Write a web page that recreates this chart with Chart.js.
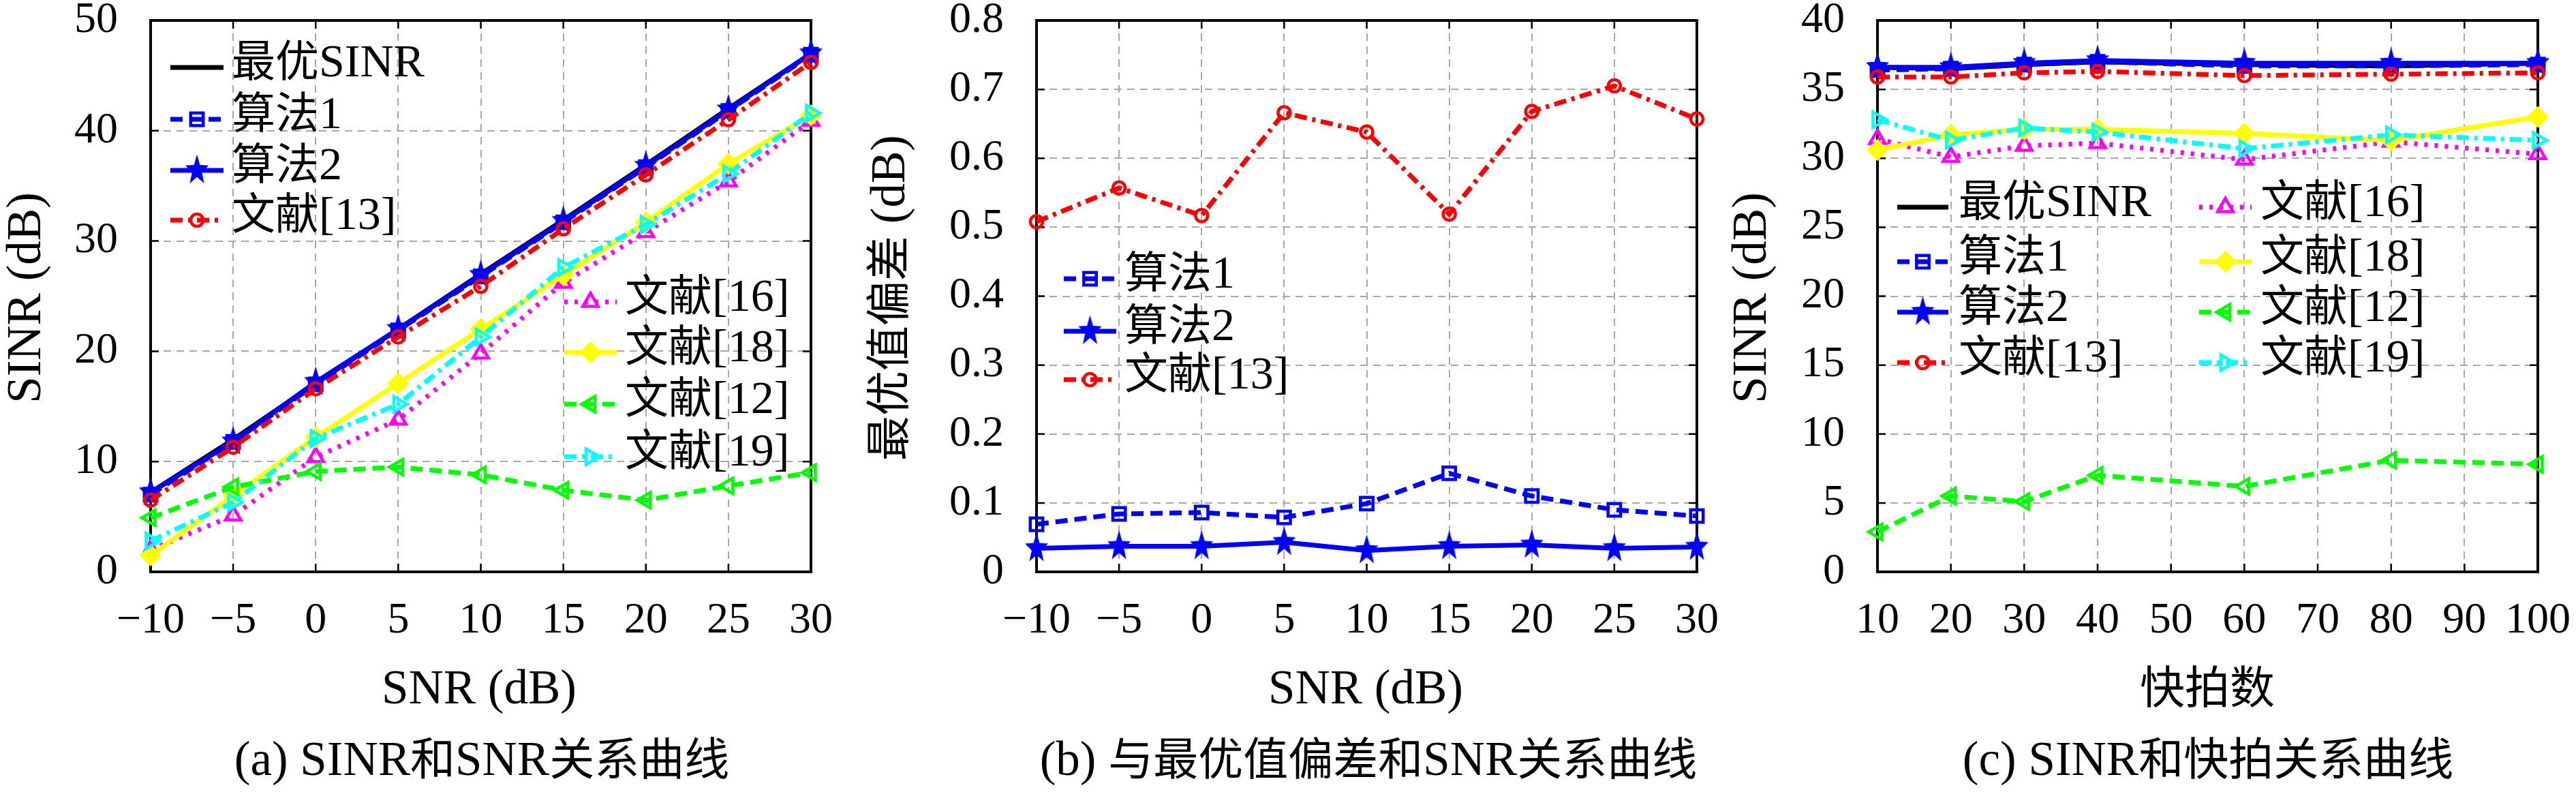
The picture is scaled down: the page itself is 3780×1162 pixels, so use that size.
<!DOCTYPE html>
<html>
<head>
<meta charset="utf-8">
<script src="https://cdn.jsdelivr.net/npm/chart.js@4.4.1/dist/chart.umd.min.js"></script>
<style>
  html, body { margin: 0; padding: 0; background: #fff; width: 3780px; height: 1162px; overflow: hidden; position: relative; }
  canvas { position: absolute; }
</style>
</head>
<body>
<canvas id="chartA" width="1460" height="1362" style="left:-100px;top:-100px"></canvas>
<canvas id="chartB" width="1460" height="1362" style="left:1160px;top:-100px"></canvas>
<canvas id="chartC" width="1460" height="1362" style="left:2420px;top:-100px"></canvas>
<script>
// x values
const SNR = [-10, -5, 0, 5, 10, 15, 20, 25, 30];
const SNAPSHOTS = [10, 20, 30, 40, 60, 80, 100];

// (a) SINR vs SNR
const aOptimal = [7.2, 12.0, 17.1, 22.0, 27.0, 31.9, 36.9, 42.0, 47.0];
const aAlg1 = [7.0, 11.8, 17.0, 21.9, 26.8, 31.7, 36.7, 41.8, 46.9];
const aAlg2 = [7.2, 11.8, 17.2, 22.0, 26.9, 31.8, 36.8, 41.9, 47.0];
const aRef13 = [6.5, 11.3, 16.6, 21.3, 25.9, 31.1, 36.0, 41.0, 46.2];
const aRef16 = [2.0, 5.1, 10.4, 13.8, 19.8, 26.2, 30.8, 35.4, 40.9];
const aRef18 = [1.5, 6.9, 12.2, 17.1, 22.0, 26.9, 31.7, 37.0, 41.4];
const aRef12 = [4.9, 7.7, 9.1, 9.5, 8.8, 7.4, 6.5, 7.8, 9.0];
const aRef19 = [2.8, 6.3, 12.1, 15.2, 21.3, 27.6, 31.5, 36.1, 41.6];

// (b) deviation from optimum vs SNR
const bAlg1 = [0.069, 0.084, 0.086, 0.079, 0.099, 0.143, 0.110, 0.090, 0.081];
const bAlg2 = [0.034, 0.037, 0.037, 0.043, 0.031, 0.037, 0.039, 0.034, 0.036];
const bRef13 = [0.508, 0.557, 0.517, 0.666, 0.638, 0.519, 0.668, 0.705, 0.657];

// (c) SINR vs snapshots
const cOptimal = [36.6, 36.5, 36.8, 37.0, 36.8, 36.7, 36.9];
const cAlg1 = [36.4, 36.5, 36.8, 37.0, 36.7, 36.7, 36.8];
const cAlg2 = [36.6, 36.6, 36.9, 37.1, 36.9, 36.9, 36.9];
const cRef13 = [35.9, 35.9, 36.2, 36.3, 36.0, 36.1, 36.2];
const cRef16 = [31.4, 30.1, 30.9, 31.1, 29.9, 31.2, 30.3];
const cRef18 = [30.6, 31.7, 32.1, 32.1, 31.8, 31.3, 33.0];
const cRef12 = [2.9, 5.5, 5.1, 7.0, 6.2, 8.1, 7.8];
const cRef19 = [32.8, 31.3, 32.2, 31.9, 30.7, 31.7, 31.3];

const LATIN = '"Liberation Serif", "DejaVu Serif", serif';
const CJK = '"Noto Sans CJK SC", "Noto Sans CJK JP", sans-serif';
const OX = 100, OY = 100, CW = 1460, CH = 1362;

// filled pentagram, a bit taller than wide like the original markers
function starImage(color) {
  const c = document.createElement('canvas');
  c.width = 38; c.height = 50;
  const g = c.getContext('2d');
  g.translate(19, 25);
  g.scale(1, 1.3);
  g.beginPath();
  for (let k = 0; k < 10; k++) {
    const r = k % 2 ? 7.5 : 18;
    const a = -Math.PI / 2 + k * Math.PI / 5;
    g.lineTo(r * Math.cos(a), r * Math.sin(a));
  }
  g.closePath();
  g.fillStyle = color;
  g.fill();
  return c;
}
const STAR = starImage('#0000ff');

const STYLES = {
  optimal: { color: '#000000', dash: [], pointStyle: false, radius: 0 },
  alg1: { color: '#0000ff', dash: [18, 10], pointStyle: 'rect', radius: 13 },
  alg2: { color: '#0000ff', dash: [], pointStyle: STAR, radius: 16, filled: true },
  ref13: { color: '#ff0000', dash: [18, 8, 5, 8], pointStyle: 'circle', radius: 9 },
  ref16: { color: '#ff00ff', dash: [5, 10], pointStyle: 'triangle', radius: 13 },
  ref18: { color: '#ffff00', dash: [], pointStyle: 'rectRot', radius: 13, filled: true },
  ref12: { color: '#00ff00', dash: [18, 10], pointStyle: 'triangle', rotation: -90, radius: 13 },
  ref19: { color: '#00ffff', dash: [18, 8, 5, 8], pointStyle: 'triangle', rotation: 90, radius: 13 }
};

function makeDataset(label, key, xs, ys, i) {
  const s = STYLES[key];
  return {
    label,
    data: xs.map((x, k) => ({ x, y: ys[k] })),
    borderColor: s.color,
    backgroundColor: s.color,
    borderWidth: 7,
    borderDash: s.dash,
    tension: 0,
    fill: false,
    pointStyle: s.pointStyle,
    pointRadius: s.radius,
    pointRotation: s.rotation || 0,
    pointBorderWidth: 4.5,
    pointBorderColor: s.color,
    pointBackgroundColor: s.filled ? s.color : 'rgba(255,255,255,0)',
    clip: false,
    order: -i
  };
}

// text with latin and CJK runs in different fonts
function drawMixed(ctx, text, x, y, align, latinSize, cjkSize) {
  const runs = text.match(/[\u3400-\u9fff]+|[^\u3400-\u9fff]+/g);
  const fontOf = r => /[\u3400-\u9fff]/.test(r) ? `${cjkSize}px ${CJK}` : `${latinSize}px ${LATIN}`;
  let total = 0;
  const widths = runs.map(r => { ctx.font = fontOf(r); const w = ctx.measureText(r).width; total += w; return w; });
  let cx = align === 'center' ? x - total / 2 : x;
  ctx.textAlign = 'left';
  ctx.textBaseline = 'alphabetic';
  runs.forEach((r, k) => { ctx.font = fontOf(r); ctx.fillText(r, cx, y); cx += widths[k]; });
}

const framePlugin = {
  id: 'frame',
  beforeDatasetsDraw(chart) {
    const { ctx, chartArea: a, scales } = chart;
    ctx.save();
    ctx.strokeStyle = '#000';
    ctx.lineWidth = 2.5;
    ctx.beginPath();
    scales.x.ticks.forEach(t => {
      const px = scales.x.getPixelForValue(t.value);
      ctx.moveTo(px, a.bottom); ctx.lineTo(px, a.bottom - 12);
      ctx.moveTo(px, a.top); ctx.lineTo(px, a.top + 12);
    });
    scales.y.ticks.forEach(t => {
      const py = scales.y.getPixelForValue(t.value);
      ctx.moveTo(a.left, py); ctx.lineTo(a.left + 12, py);
      ctx.moveTo(a.right, py); ctx.lineTo(a.right - 12, py);
    });
    ctx.stroke();
    ctx.lineWidth = 4;
    ctx.strokeRect(a.left, a.top, a.right - a.left, a.bottom - a.top);
    ctx.restore();
  }
};

const legendPlugin = {
  id: 'boxLegend',
  afterDatasetsDraw(chart, args, opts) {
    const ctx = chart.ctx;
    (opts.columns || []).forEach(col => {
      col.rows.forEach(row => {
        const ds = chart.data.datasets[row.ds];
        const y = row.y + OY, x1 = col.x1 + OX, x2 = col.x2 + OX;
        ctx.save();
        ctx.strokeStyle = ds.borderColor;
        ctx.lineWidth = ds.borderWidth;
        ctx.setLineDash(ds.borderDash || []);
        ctx.beginPath(); ctx.moveTo(x1, y); ctx.lineTo(x2, y); ctx.stroke();
        ctx.setLineDash([]);
        if (ds.pointStyle && ds.pointRadius > 0) {
          ctx.strokeStyle = ds.pointBorderColor;
          ctx.fillStyle = ds.pointBackgroundColor;
          ctx.lineWidth = ds.pointBorderWidth;
          Chart.helpers.drawPoint(ctx, {
            pointStyle: ds.pointStyle, radius: ds.pointRadius,
            rotation: ds.pointRotation, borderWidth: ds.pointBorderWidth
          }, (x1 + x2) / 2, y);
        }
        ctx.fillStyle = '#000';
        drawMixed(ctx, ds.label, col.tx + OX, y + 13, 'left', 68, 64);
        ctx.restore();
      });
    });
  }
};

const textPlugin = {
  id: 'panelTexts',
  afterDraw(chart, args, opts) {
    const ctx = chart.ctx;
    ctx.save();
    ctx.fillStyle = '#000';
    if (opts.yTitle) {
      ctx.save();
      ctx.translate(opts.yTitle.x + OX, opts.yTitle.y + OY);
      ctx.rotate(-Math.PI / 2);
      drawMixed(ctx, opts.yTitle.text, 0, 23, 'center', 71, 66);
      ctx.restore();
    }
    if (opts.xTitle) drawMixed(ctx, opts.xTitle.text, opts.xTitle.x + OX, opts.xTitle.y + OY, 'center', 71, 66);
    if (opts.caption) drawMixed(ctx, opts.caption.text, opts.caption.x + OX, opts.caption.y + OY, 'center', 71, 66);
    ctx.restore();
  }
};

const tickFont = { family: LATIN, size: 64 };
const minus = v => String(v).replace('-', '\u2212');

function buildChart(id, cfg) {
  const area = cfg.area; // left, right, top, bottom in panel coords
  return new Chart(document.getElementById(id), {
    type: 'line',
    data: { datasets: cfg.datasets },
    plugins: [framePlugin, legendPlugin, textPlugin],
    options: {
      responsive: false,
      animation: false,
      devicePixelRatio: 1,
      events: [],
      layout: { padding: { left: 0, top: OY + area.top, right: CW - (OX + area.right), bottom: 0 } },
      plugins: {
        legend: { display: false },
        tooltip: { enabled: false },
        boxLegend: { columns: cfg.legend },
        panelTexts: cfg.texts
      },
      scales: {
        x: {
          type: 'linear',
          min: cfg.x.min, max: cfg.x.max,
          afterFit: s => { s.height = CH - (OY + area.bottom); },
          grid: { color: '#a8a8a8', lineWidth: 2, drawTicks: false },
          border: { display: false, dash: [11, 8] },
          ticks: {
            stepSize: cfg.x.step, autoSkip: false, maxRotation: 0, padding: 34,
            color: '#000', font: tickFont, callback: minus
          }
        },
        y: {
          type: 'linear',
          min: cfg.y.min, max: cfg.y.max,
          afterFit: s => { s.width = OX + area.left; },
          grid: { color: '#a8a8a8', lineWidth: 2, drawTicks: false },
          border: { display: false, dash: [11, 8] },
          ticks: {
            stepSize: cfg.y.step, autoSkip: false, padding: 48,
            color: '#000', font: tickFont, callback: cfg.y.format || minus
          }
        }
      }
    }
  });
}

buildChart('chartA', {
  area: { left: 221, right: 1190, top: 30, bottom: 839 },
  x: { min: -10, max: 30, step: 5 },
  y: { min: 0, max: 50, step: 10 },
  datasets: [
    makeDataset('最优SINR', 'optimal', SNR, aOptimal, 0),
    makeDataset('算法1', 'alg1', SNR, aAlg1, 1),
    makeDataset('算法2', 'alg2', SNR, aAlg2, 2),
    makeDataset('文献[13]', 'ref13', SNR, aRef13, 3),
    makeDataset('文献[16]', 'ref16', SNR, aRef16, 4),
    makeDataset('文献[18]', 'ref18', SNR, aRef18, 5),
    makeDataset('文献[12]', 'ref12', SNR, aRef12, 6),
    makeDataset('文献[19]', 'ref19', SNR, aRef19, 7)
  ],
  legend: [
    { x1: 250, x2: 328, tx: 340, rows: [{ ds: 0, y: 99 }, { ds: 1, y: 175 }, { ds: 2, y: 250 }, { ds: 3, y: 323 }] },
    { x1: 828, x2: 905, tx: 917, rows: [{ ds: 4, y: 443 }, { ds: 5, y: 517 }, { ds: 6, y: 593 }, { ds: 7, y: 670 }] }
  ],
  texts: {
    yTitle: { text: 'SINR (dB)', x: 36, y: 437 },
    xTitle: { text: 'SNR (dB)', x: 703, y: 1032 },
    caption: { text: '(a) SINR和SNR关系曲线', x: 707, y: 1137 }
  }
});

buildChart('chartB', {
  area: { left: 261, right: 1230, top: 30, bottom: 839 },
  x: { min: -10, max: 30, step: 5 },
  y: { min: 0, max: 0.8, step: 0.1, format: v => v === 0 ? '0' : v.toFixed(1) },
  datasets: [
    makeDataset('算法1', 'alg1', SNR, bAlg1, 0),
    makeDataset('算法2', 'alg2', SNR, bAlg2, 1),
    makeDataset('文献[13]', 'ref13', SNR, bRef13, 2)
  ],
  legend: [
    { x1: 301, x2: 378, tx: 390, rows: [{ ds: 0, y: 409 }, { ds: 1, y: 486 }, { ds: 2, y: 557 }] }
  ],
  texts: {
    yTitle: { text: '最优值偏差 (dB)', x: 44, y: 437 },
    xTitle: { text: 'SNR (dB)', x: 744, y: 1032 },
    caption: { text: '(b) 与最优值偏差和SNR关系曲线', x: 748, y: 1137 }
  }
});

buildChart('chartC', {
  area: { left: 235, right: 1204, top: 30, bottom: 839 },
  x: { min: 10, max: 100, step: 10 },
  y: { min: 0, max: 40, step: 5 },
  datasets: [
    makeDataset('最优SINR', 'optimal', SNAPSHOTS, cOptimal, 0),
    makeDataset('算法1', 'alg1', SNAPSHOTS, cAlg1, 1),
    makeDataset('算法2', 'alg2', SNAPSHOTS, cAlg2, 2),
    makeDataset('文献[13]', 'ref13', SNAPSHOTS, cRef13, 3),
    makeDataset('文献[16]', 'ref16', SNAPSHOTS, cRef16, 4),
    makeDataset('文献[18]', 'ref18', SNAPSHOTS, cRef18, 5),
    makeDataset('文献[12]', 'ref12', SNAPSHOTS, cRef12, 6),
    makeDataset('文献[19]', 'ref19', SNAPSHOTS, cRef19, 7)
  ],
  legend: [
    { x1: 264, x2: 339, tx: 354, rows: [{ ds: 0, y: 304 }, { ds: 1, y: 384 }, { ds: 2, y: 458 }, { ds: 3, y: 532 }] },
    { x1: 707, x2: 784, tx: 797, rows: [{ ds: 4, y: 304 }, { ds: 5, y: 384 }, { ds: 6, y: 458 }, { ds: 7, y: 532 }] }
  ],
  texts: {
    yTitle: { text: 'SINR (dB)', x: 48, y: 437 },
    xTitle: { text: '快拍数', x: 719, y: 1032 },
    caption: { text: '(c) SINR和快拍关系曲线', x: 720, y: 1137 }
  }
});
</script>
</body>
</html>
